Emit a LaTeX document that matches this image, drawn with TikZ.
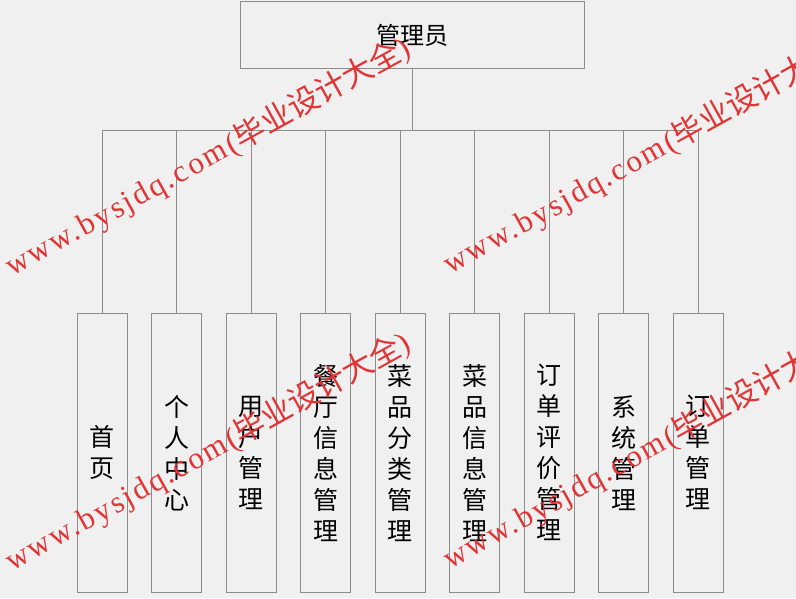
\documentclass[tikz,border=0pt]{standalone}
\usepackage{fontspec}
\setmainfont{Noto Sans CJK SC}
\newfontfamily\cjkfont{Noto Sans CJK SC}
\newfontfamily\wmlatin[LetterSpace=8]{Liberation Serif}
\definecolor{bgc}{RGB}{240,240,240}
\definecolor{linec}{RGB}{140,140,140}
\definecolor{wmred}{RGB}{226,52,52}
\tikzset{
  x=1pt, y=-1pt,
  topbox/.style={draw=linec, line width=1pt, fill=bgc, minimum width=344pt, minimum height=67pt, inner sep=0pt, font=\fontsize{24}{28}\selectfont},
  leafbox/.style={draw=linec, line width=1pt, fill=bgc, minimum width=50pt, minimum height=279pt, inner sep=0pt, align=center, font=\fontsize{25}{31}\selectfont},
  conn/.style={draw=linec, line width=1pt},
  wmark/.style={text=wmred, anchor=base west, rotate=29, inner sep=0pt, font=\fontsize{31}{31}\selectfont}
}
\newcommand{\wmtext}{{\wmlatin www.bysjdq.com(}{\cjkfont 毕业设计大全}{\wmlatin )}}
\begin{document}
\begin{tikzpicture}
\fill[bgc] (0,0) rectangle (796,598);
\useasboundingbox (0,0) rectangle (796,598);
\node[topbox] (top) at (412,35) {管理员};
\coordinate (bus) at (412,130);
\node[leafbox] (c1) at (102,452.8) {首\\页};
\node[leafbox] (c2) at (176.5,452.8) {个\\人\\中\\心};
\node[leafbox] (c3) at (251,452.8) {用\\户\\管\\理};
\node[leafbox] (c4) at (325.5,452.8) {餐\\厅\\信\\息\\管\\理};
\node[leafbox] (c5) at (400,452.8) {菜\\品\\分\\类\\管\\理};
\node[leafbox] (c6) at (474.5,452.8) {菜\\品\\信\\息\\管\\理};
\node[leafbox] (c7) at (549,452.8) {订\\单\\评\\价\\管\\理};
\node[leafbox] (c8) at (623.5,452.8) {系\\统\\管\\理};
\node[leafbox] (c9) at (698,452.8) {订\\单\\管\\理};
\draw[conn] (top.south) -- (bus);
\foreach \c in {c1,c2,c3,c4,c5,c6,c7,c8,c9}{
  \draw[conn] (bus) -| (\c.north);
}
\node[wmark] (w1) at (12,277) {\wmtext};
\node[wmark] (w2) at (450,275) {\wmtext};
\node[wmark] (w3) at (12,572) {\wmtext};
\node[wmark] (w4) at (450,570) {\wmtext};
\end{tikzpicture}
\end{document}
